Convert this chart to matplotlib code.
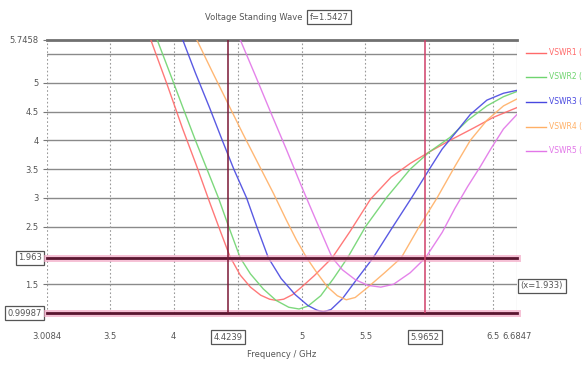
import matplotlib
matplotlib.use("Agg")
import matplotlib.pyplot as plt

# ---- data ----
series_names = ["VSWR1 (", "VSWR2 (", "VSWR3 (", "VSWR4 (", "VSWR5 ("]
series_colors = ["#ff6a6a", "#6fd46f", "#4848e0", "#ffb066", "#e276e8"]

red_f = [3.82, 3.95, 4.07, 4.18, 4.28, 4.36, 4.44, 4.52, 4.60, 4.68, 4.75, 4.80, 4.86, 4.93, 5.00, 5.10, 5.24, 5.38, 5.54, 5.70, 5.85, 6.00, 6.16, 6.35, 6.50, 6.685]
red_v = [5.75, 4.96, 4.20, 3.55, 2.93, 2.45, 1.98, 1.66, 1.45, 1.31, 1.24, 1.22, 1.24, 1.32, 1.45, 1.65, 1.96, 2.42, 2.98, 3.36, 3.60, 3.80, 4.00, 4.22, 4.40, 4.57]

green_f = [3.87, 3.97, 4.07, 4.17, 4.26, 4.35, 4.43, 4.52, 4.60, 4.70, 4.80, 4.90, 4.98, 5.05, 5.15, 5.25, 5.36, 5.50, 5.67, 5.85, 6.00, 6.16, 6.30, 6.45, 6.58, 6.685]
green_v = [5.75, 5.17, 4.58, 4.00, 3.50, 3.00, 2.50, 1.96, 1.68, 1.42, 1.22, 1.10, 1.07, 1.12, 1.30, 1.60, 1.96, 2.50, 3.02, 3.50, 3.80, 4.05, 4.35, 4.60, 4.76, 4.85]

blue_f = [4.07, 4.17, 4.28, 4.38, 4.47, 4.57, 4.65, 4.74, 4.84, 4.95, 5.05, 5.12, 5.17, 5.23, 5.32, 5.43, 5.56, 5.70, 5.86, 6.00, 6.10, 6.20, 6.32, 6.45, 6.58, 6.685]
blue_v = [5.75, 5.17, 4.57, 4.00, 3.50, 3.00, 2.50, 1.96, 1.60, 1.32, 1.13, 1.05, 1.02, 1.06, 1.25, 1.58, 1.96, 2.45, 3.00, 3.50, 3.85, 4.12, 4.45, 4.70, 4.82, 4.87]

orange_f = [4.18, 4.30, 4.42, 4.54, 4.66, 4.78, 4.88, 4.96, 5.04, 5.12, 5.20, 5.28, 5.35, 5.42, 5.52, 5.65, 5.78, 5.92, 6.06, 6.20, 6.32, 6.45, 6.58, 6.685]
orange_v = [5.75, 5.20, 4.66, 4.12, 3.60, 3.08, 2.62, 2.27, 1.96, 1.70, 1.46, 1.30, 1.23, 1.27, 1.45, 1.70, 1.96, 2.50, 3.00, 3.55, 4.00, 4.35, 4.60, 4.72]

magenta_f = [4.52, 4.64, 4.76, 4.88, 5.00, 5.10, 5.17, 5.24, 5.32, 5.42, 5.52, 5.62, 5.72, 5.85, 5.97, 6.10, 6.20, 6.30, 6.40, 6.48, 6.58, 6.685]
magenta_v = [5.75, 5.12, 4.48, 3.85, 3.20, 2.68, 2.32, 1.96, 1.75, 1.58, 1.48, 1.45, 1.50, 1.70, 1.96, 2.40, 2.82, 3.20, 3.55, 3.85, 4.20, 4.45]

series_f = [red_f, green_f, blue_f, orange_f, magenta_f]
series_v = [red_v, green_v, blue_v, orange_v, magenta_v]

x_min, x_max = 3.0084, 6.6847
y_min, y_max = 0.99987, 5.7458
y_ticks = [1.5, 2.5, 3, 3.5, 4, 4.5, 5]
y_tick_labels = ["1.5", "2.5", "3", "3.5", "4", "4.5", "5"]
y_grid = [1.5, 2.5, 3, 3.5, 4, 4.5, 5, 5.5]
x_ticks = [3.5, 4, 5, 5.5, 6.5]
x_tick_labels = ["3.5", "4", "5", "5.5", "6.5"]
x_grid = [3.5, 4, 4.5, 5, 5.5, 6, 6.5]
h_markers = [1.963, 0.99987]
h_marker_labels = ["1.963", "0.99987"]
v_markers = [4.4239, 5.9652]
v_marker_labels = ["4.4239", "5.9652"]
v_marker_colors = ["#7a1836", "#d0406a"]

txt = "#555555"

fig = plt.figure(figsize=(5.83, 3.70), dpi=100)
ax = fig.add_axes([0.0806, 0.154, 0.806, 0.738])
ax.set_xlim(x_min, x_max)
ax.set_ylim(y_min, y_max)
for s in ax.spines.values():
    s.set_visible(False)

# grid
for g in y_grid:
    ax.axhline(g, color="#8a8a8a", lw=1.0, zorder=1)
for g in x_grid:
    ax.axvline(g, color="#9a9a9a", lw=0.8, ls=(0, (1.5, 2)), zorder=1)
ax.axvline(x_min, color="#9a9a9a", lw=0.8, ls=(0, (1.5, 2)), zorder=1)
ax.axvline(x_max, color="#9a9a9a", lw=0.8, zorder=1)
ax.axhline(y_max, color="#707070", lw=2.0, zorder=1, clip_on=False)

# curves
for f, v, c in zip(series_f, series_v, series_colors):
    ax.plot(f, v, color=c, lw=1.0, zorder=3, alpha=0.9, solid_joinstyle="round")

# marker lines
for y in h_markers:
    ax.axhline(y, color="#f2a6c4", lw=5, zorder=4, clip_on=False, alpha=0.7)
    ax.axhline(y, color="#5a1630", lw=2.0, zorder=5, clip_on=False)
for x, c in zip(v_markers, v_marker_colors):
    ax.axvline(x, color=c, lw=1.1, zorder=5)

# ticks
ax.set_yticks(y_ticks + [y_max])
ax.set_yticklabels(y_tick_labels + ["5.7458"], fontsize=6, color=txt)
ax.set_xticks([x_min] + x_ticks + [x_max])
ax.set_xticklabels(["3.0084"] + x_tick_labels + ["6.6847"], fontsize=6, color=txt)
ax.tick_params(axis="y", length=3, width=0.8, color="#777777", pad=3)
ax.tick_params(axis="x", length=0, pad=14)

box = dict(boxstyle="square,pad=0.3", fc="white", ec="#555555", lw=0.9)
for y, lab in zip(h_markers, h_marker_labels):
    ax.text(x_min - 0.04, y, lab, ha="right", va="center", fontsize=6, color=txt, bbox=box, clip_on=False)
for x, lab in zip(v_markers, v_marker_labels):
    ax.text(x, y_min - 0.42, lab, ha="center", va="center", fontsize=6, color=txt, bbox=box, clip_on=False)

ax.text(x_max + 0.03, 1.47, "(x=1.933)", ha="left", va="center", fontsize=6, color=txt, bbox=box, clip_on=False)

ax.set_xlabel("Frequency / GHz", fontsize=6, color=txt, labelpad=6)

# title with boxed value beside it
fig.text(0.436, 0.953, "Voltage Standing Wave", ha="center", va="center", fontsize=6, color=txt)
fig.text(0.531, 0.953, "f=1.5427", ha="left", va="center", fontsize=6, color=txt, bbox=box)

# legend
leg_y = [0.858, 0.792, 0.725, 0.657, 0.592]
for name, c, ly in zip(series_names, series_colors, leg_y):
    fig.add_artist(plt.Line2D([0.903, 0.937], [ly, ly], color=c, lw=1.0, transform=fig.transFigure))
    fig.text(0.942, ly, name, ha="left", va="center", fontsize=5.5, color=c)

fig.savefig("out.png", dpi=100)
